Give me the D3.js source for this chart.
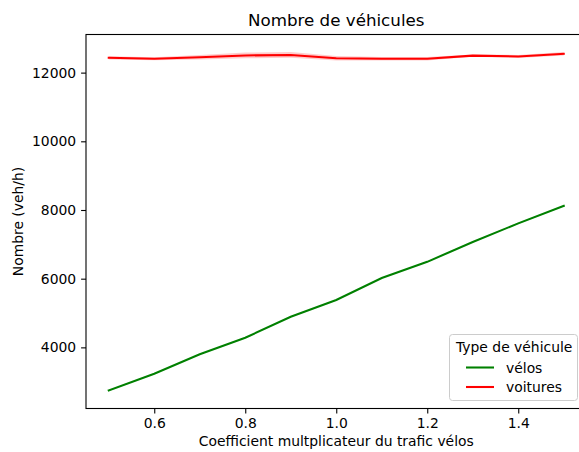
<!DOCTYPE html>
<html><head><meta charset="utf-8">
<script src="https://cdn.jsdelivr.net/npm/d3@7"></script>
<style>body{margin:0;background:#fff}svg{display:block}text{font-family:"DejaVu Sans",sans-serif}</style>
</head><body>
<script>
const coefs = [0.5,0.6,0.7,0.8,0.9,1.0,1.1,1.2,1.3,1.4,1.5];
const velos = [2745,3232,3800,4280,4890,5380,6020,6490,7070,7610,8120];
const velosCI = [15,15,15,15,15,15,15,15,15,15,15];
const voitures = [12430,12405,12450,12500,12515,12420,12405,12405,12495,12470,12550];
const voituresCI = [50,45,65,85,85,65,50,50,30,45,50];
const xTicks = [0.6,0.8,1.0,1.2,1.4];
const yTicks = [4000,6000,8000,10000,12000];
const seriesNames = ["vélos","voitures"];
const seriesColors = ["green","red"];

const W=579,H=452;
const L=86,R=586.5,T=34.5,B=408.5;
const svg=d3.select("body").append("svg").attr("width",W).attr("height",H);
const x=d3.scaleLinear().domain([0.45,1.55]).range([L,R]);
const y=d3.scaleLinear().domain([2220,13110]).range([B,T]);

const series=[
  {name:seriesNames[0],color:seriesColors[0],v:velos,ci:velosCI},
  {name:seriesNames[1],color:seriesColors[1],v:voitures,ci:voituresCI}
];
const area=d3.area().x(d=>x(d.x)).y0(d=>y(d.v-d.c)).y1(d=>y(d.v+d.c));
const line=d3.line().x(d=>x(d.x)).y(d=>y(d.v));
series.forEach(s=>{
  const pts=coefs.map((c,i)=>({x:c,v:s.v[i],c:s.ci[i]}));
  svg.append("path").attr("d",area(pts)).attr("fill",s.color).attr("fill-opacity",0.2).attr("stroke","none");
  svg.append("path").attr("d",line(pts)).attr("fill","none").attr("stroke",s.color).attr("stroke-width",2.08).attr("stroke-linecap","square");
});

// axes
const xa=svg.append("g").attr("transform",`translate(0,${B})`)
  .call(d3.axisBottom(x).tickValues(xTicks).tickFormat(d3.format(".1f")).tickSizeOuter(0).tickSize(4.9).tickPadding(4.9));
const ya=svg.append("g").attr("transform",`translate(${L},0)`)
  .call(d3.axisLeft(y).tickValues(yTicks).tickFormat(d=>d).tickSizeOuter(0).tickSize(4.9).tickPadding(4.9));
[xa,ya].forEach(a=>{a.select(".domain").remove();a.selectAll("text").attr("font-size",13.9).attr("fill","#000").attr("font-family","DejaVu Sans");a.selectAll("line").attr("stroke","#000").attr("stroke-width",1.1);});
svg.append("rect").attr("x",L).attr("y",T).attr("width",R-L).attr("height",B-T).attr("fill","none").attr("stroke","#000").attr("stroke-width",1.1);

svg.append("text").attr("x",(L+R)/2).attr("y",26).attr("text-anchor","middle").attr("font-size",16.7).text("Nombre de véhicules");
svg.append("text").attr("x",(L+R)/2).attr("y",446).attr("text-anchor","middle").attr("font-size",13.9).text("Coefficient multplicateur du trafic vélos");
svg.append("text").attr("transform",`translate(23,${(T+B)/2}) rotate(-90)`).attr("text-anchor","middle").attr("font-size",13.9).text("Nombre (veh/h)");

// legend
const lg=svg.append("g");
lg.append("rect").attr("x",449.5).attr("y",334.5).attr("width",128).attr("height",66).attr("rx",3).attr("fill","#fff").attr("fill-opacity",0.8).attr("stroke","#ccc").attr("stroke-width",1);
lg.append("text").attr("x",456).attr("y",352).attr("font-size",13.9).text("Type de véhicule");
series.forEach((s,i)=>{
  const yy=367.5+i*19.5;
  lg.append("line").attr("x1",466).attr("x2",494).attr("y1",yy).attr("y2",yy).attr("stroke",s.color).attr("stroke-width",2.08);
  lg.append("text").attr("x",506).attr("y",yy+5).attr("font-size",13.9).text(s.name);
});
</script>
</body></html>
